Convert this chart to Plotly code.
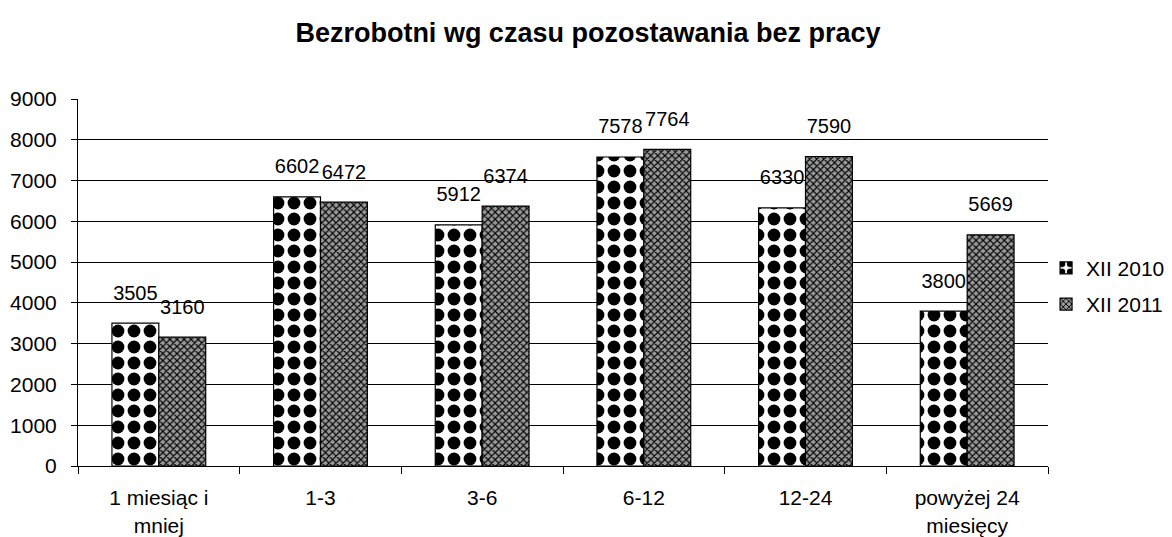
import plotly.graph_objects as go

categories = ["1 miesiąc i<br>mniej", "1-3", "3-6", "6-12", "12-24", "powyżej 24<br>miesięcy"]
series_2010 = [3505, 6602, 5912, 7578, 6330, 3800]
series_2011 = [3160, 6472, 6374, 7764, 7590, 5669]
y_ticks = [0, 1000, 2000, 3000, 4000, 5000, 6000, 7000, 8000, 9000]
series_names = ["XII 2010", "XII 2011"]

font_family = "Liberation Sans, Arial, sans-serif"

fig = go.Figure()
fig.add_trace(go.Bar(
    name=series_names[0], x=categories, y=series_2010, legendgroup="a",
    marker=dict(color="white", line=dict(color="black", width=1.2),
                pattern=dict(shape=".", fgcolor="black", bgcolor="white",
                             fgopacity=1, size=16, solidity=0.5)),
))
fig.add_trace(go.Bar(
    name=series_names[1], x=categories, y=series_2011, legendgroup="b",
    marker=dict(color="#888888", line=dict(color="black", width=1.2),
                pattern=dict(shape="x", fgcolor="black", bgcolor="#999999",
                             fgopacity=1, size=5, solidity=0.4)),
))
# value labels, placed in the same groups as the bars
for vals in (series_2010, series_2011):
    fig.add_trace(go.Scatter(
        x=categories, y=vals, mode="markers+text",
        text=[str(v) for v in vals], textposition="top center",
        textfont=dict(size=20, color="black", family=font_family),
        marker=dict(size=28, opacity=0, color="white"),
        showlegend=False, hoverinfo="skip", cliponaxis=False,
    ))

fig.update_layout(
    width=1156, height=529,
    paper_bgcolor="white", plot_bgcolor="white",
    margin=dict(l=70, r=116, t=91, b=71, autoexpand=False),
    barmode="group", bargap=0.42, bargroupgap=0,
    scattermode="group", scattergap=0.42,
    font=dict(family=font_family, size=21, color="black"),
    title=dict(text="<b>Bezrobotni wg czasu pozostawania bez pracy</b>",
               x=0.5017, xanchor="center", y=0.9527, yanchor="middle",
               font=dict(size=27, family=font_family, color="black")),
    legend=dict(x=0.998, y=0.49, xanchor="left", yanchor="middle",
                font=dict(size=21, family=font_family), itemwidth=30,
                traceorder="grouped", tracegroupgap=6, bgcolor="rgba(0,0,0,0)"),
)
fig.update_xaxes(
    showline=True, linecolor="black", linewidth=1, automargin=False,
    ticks="outside", tickson="boundaries", ticklen=7, tickcolor="black",
    tickfont=dict(size=21), showgrid=False, ticklabelstandoff=13,
)
fig.update_yaxes(
    range=[0, 9000], tickvals=y_ticks, automargin=False,
    showline=True, linecolor="black", linewidth=1,
    ticks="outside", ticklen=6, tickcolor="black",
    showgrid=True, gridcolor="black", gridwidth=1,
    tickfont=dict(size=21), zeroline=False, ticklabelstandoff=10,
)

fig.write_html("out.html")
